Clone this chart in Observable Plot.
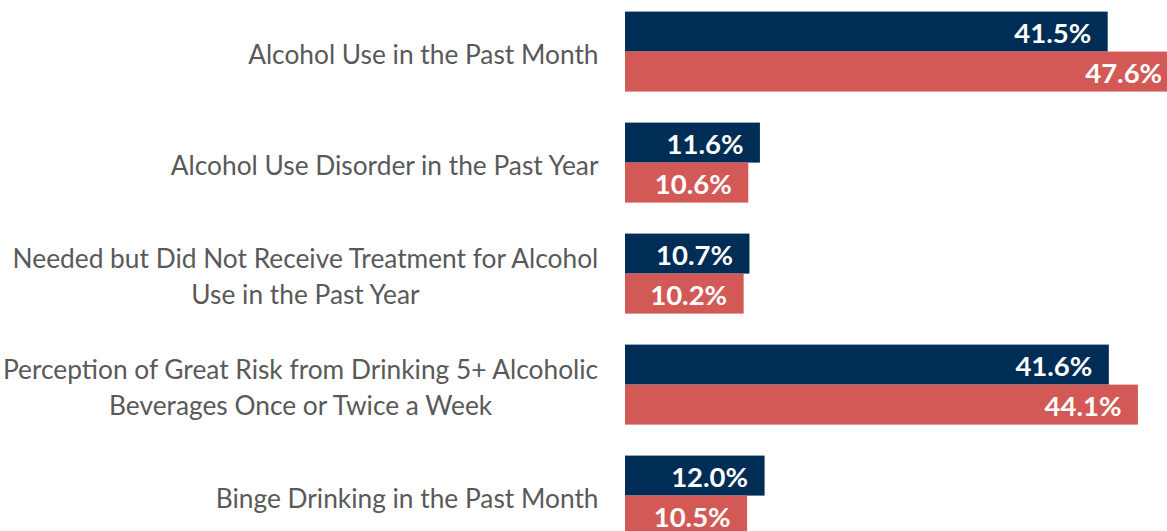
<!DOCTYPE html>
<html>
<head>
<meta charset="utf-8">
<script src="https://cdn.jsdelivr.net/npm/d3@7"></script>
<script src="https://cdn.jsdelivr.net/npm/@observablehq/plot@0.6"></script>
<style>
  html, body { margin: 0; padding: 0; overflow: hidden; background: #fff; }
  #chart svg { overflow: visible; }
</style>
</head>
<body>
<div id="chart"></div>
<script>
const categories = [
  "Alcohol Use in the Past Month",
  "Alcohol Use Disorder in the Past Year",
  "Needed but Did Not Receive Treatment for Alcohol\nUse in the Past Year",
  "Perception of Great Risk from Drinking 5+ Alcoholic\nBeverages Once or Twice a Week",
  "Binge Drinking in the Past Month"
];
const seriesNames = ["Series 1", "Series 2"];
const series1Values = [41.5, 11.6, 10.7, 41.6, 12.0];
const series2Values = [47.6, 10.6, 10.2, 44.1, 10.5];
const seriesColors = ["#002d55", "#d35956"];

const data = [];
categories.forEach((c, i) => {
  data.push({category: c, series: seriesNames[0], value: series1Values[i]});
  data.push({category: c, series: seriesNames[1], value: series2Values[i]});
});

const chart = Plot.plot({
  width: 1167,
  height: 537,
  marginLeft: 625,
  marginRight: 0,
  marginTop: 11.4,
  marginBottom: 0,
  style: {fontFamily: "Lato, sans-serif"},
  x: {domain: [0, 46.6], axis: null},
  y: {domain: seriesNames, padding: 0, axis: null},
  fy: {domain: categories, paddingInner: 0.276, paddingOuter: 0, axis: null},
  color: {domain: seriesNames, range: seriesColors},
  marks: [
    Plot.barX(data, {x: "value", y: "series", fy: "category", fill: "series"}),
    Plot.text(data, {
      x: "value", y: "series", fy: "category",
      text: d => d.value.toFixed(1) + "%",
      dx: -17, dy: 2, textAnchor: "end", fill: "white",
      fontWeight: "bold", fontSize: 27.5
    }),
    Plot.text(categories, {
      fy: d => d, text: d => d, frameAnchor: "left",
      dx: -27, textAnchor: "end", fill: "#595959",
      fontSize: 26.3, lineHeight: 1.384
    })
  ]
});
document.getElementById("chart").appendChild(chart);

// center multi-line label lines relative to each other, keeping block right-aligned
chart.querySelectorAll("text").forEach(t => {
  const spans = t.querySelectorAll("tspan");
  if (spans.length > 1) {
    const w = t.getBBox().width;
    t.setAttribute("text-anchor", "middle");
    t.style.textAnchor = "middle";
    spans.forEach(s => s.setAttribute("x", -w / 2));
  }
});
</script>
</body>
</html>
